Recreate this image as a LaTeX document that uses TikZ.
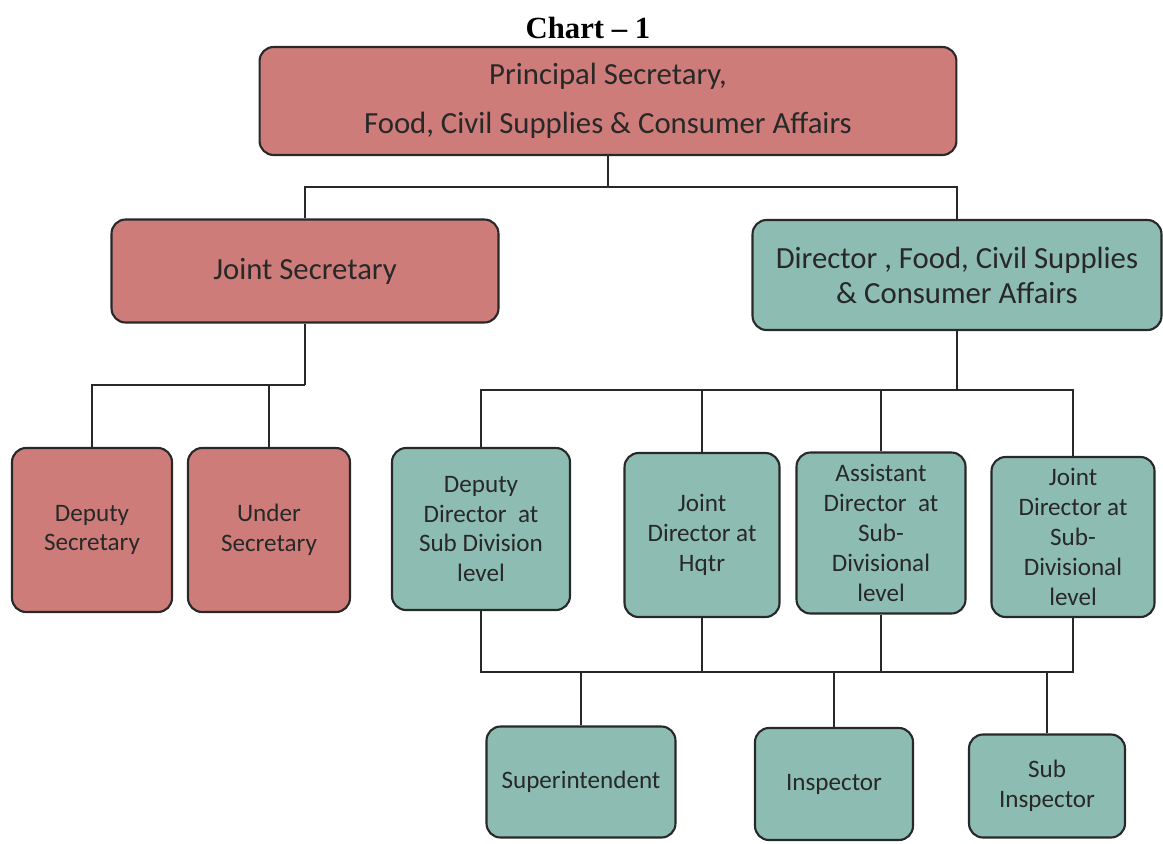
\documentclass[tikz,border=0pt]{standalone}
\usepackage{fontspec}
\setmainfont{Carlito}
\newfontfamily\titlefont[Ligatures=TeX]{Liberation Serif}
\usepackage{xcolor}
\usetikzlibrary{positioning}
\definecolor{headred}{RGB}{205,124,122}
\definecolor{staffteal}{RGB}{141,189,178}
\definecolor{inkgray}{RGB}{40,40,40}

\begin{document}
\begin{tikzpicture}[
    x=0.02cm, y=-0.02cm,
    box/.style={draw=inkgray, line width=1.2pt, rounded corners=0.28cm, align=center, inner sep=2pt, text=inkgray},
    redbox/.style={box, fill=headred},
    tealbox/.style={box, fill=staffteal},
    big/.style={font=\fontsize{17.5}{28}\selectfont},
    mid/.style={font=\fontsize{17.5}{20}\selectfont},
    small/.style={font=\fontsize{14.3}{17}\selectfont},
    link/.style={draw=inkgray, line width=0.9pt}
  ]
    \useasboundingbox (0,0) rectangle (1163,843);

    \node[font=\titlefont\bfseries\fontsize{17.5}{20}\selectfont] (title) at (588,28) {Chart \textendash{} 1};
    \node[redbox, big, minimum width=13.94cm, minimum height=2.16cm] (ps) at (608,101) {Principal Secretary,\\Food, Civil Supplies \& Consumer Affairs};
    \node[redbox, big, minimum width=7.74cm, minimum height=2.06cm] (js) at (305,271) {Joint Secretary};
    \node[tealbox, mid, minimum width=8.18cm, minimum height=2.2cm] (dir) at (957,275) {Director , Food, Civil Supplies\\\& Consumer Affairs};

    \node[redbox, small, minimum width=3.2cm, minimum height=3.28cm] (ds) at (92,530) {Deputy\\Secretary};
    \node[redbox, small, minimum width=3.24cm, minimum height=3.28cm] (us) at (269,530) {Under\\Secretary};
    \node[tealbox, small, minimum width=3.56cm, minimum height=3.24cm] (dd) at (481,529) {Deputy\\Director~ at\\Sub Division\\level};
    \node[tealbox, small, minimum width=3.1cm, minimum height=3.28cm] (jdh) at (702,535) {Joint\\Director at\\Hqtr};
    \node[tealbox, small, minimum width=3.38cm, minimum height=3.22cm] (ad) at (881,533) {Assistant\\Director~ at\\Sub-\\Divisional\\level};
    \node[tealbox, small, minimum width=3.26cm, minimum height=3.2cm] (jds) at (1073,537) {Joint\\Director at\\Sub-\\Divisional\\level};

    \node[tealbox, small, minimum width=3.78cm, minimum height=2.22cm] (sup) at (581,782) {Superintendent};
    \node[tealbox, small, minimum width=3.16cm, minimum height=2.24cm] (insp) at (834,784) {Inspector};
    \node[tealbox, small, minimum width=3.12cm, minimum height=2.06cm] (subi) at (1047,786) {Sub\\Inspector};

    % bus junctions
    \coordinate (top) at (608,187);
    \coordinate (jsbus) at (305,385);
    \coordinate (dirbus) at (957,390);
    \coordinate (lowbus) at (0,672);

    \draw[link] (ps.south) -- (top);
    \draw[link] (js.north) |- (top) -| (dir.north);

    \draw[link] (js.south) -- (jsbus);
    \draw[link] (ds.north) |- (jsbus);
    \draw[link] (us.north) |- (jsbus);

    \draw[link] (dir.south) -- (dirbus);
    \draw[link] (dd.north) |- (dirbus) -| (jds.north);
    \draw[link] (jdh.north) -- (jdh.north |- dirbus);
    \draw[link] (ad.north) -- (ad.north |- dirbus);

    \draw[link] (dd.south) |- (lowbus -| jds.south) -- (jds.south);
    \draw[link] (jdh.south) -- (jdh.south |- lowbus);
    \draw[link] (ad.south) -- (ad.south |- lowbus);
    \draw[link] (sup.north) -- (sup.north |- lowbus);
    \draw[link] (insp.north) -- (insp.north |- lowbus);
    \draw[link] (subi.north) -- (subi.north |- lowbus);
\end{tikzpicture}
\end{document}
